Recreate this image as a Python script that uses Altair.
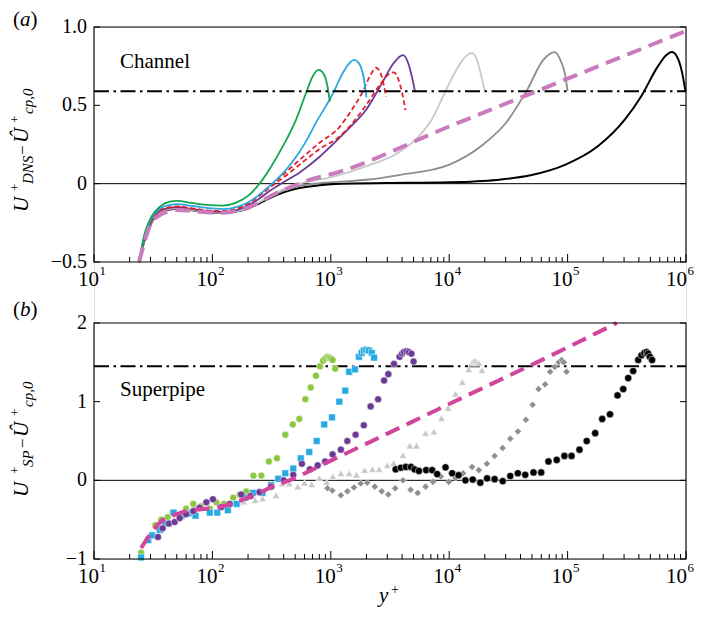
import altair as alt
import pandas as pd

# ---------------- data: panel (a) channel ----------------
a_green_x = [24, 26.8, 30.6, 36, 43.6, 51, 64, 89, 122, 159, 205, 250, 313, 392, 508, 617, 701, 788, 880, 938, 982]
a_green_y = [-0.5, -0.317, -0.21, -0.147, -0.115, -0.11, -0.121, -0.136, -0.14, -0.121, -0.072, 0.0, 0.108, 0.236, 0.407, 0.577, 0.683, 0.726, 0.694, 0.62, 0.523]

a_blue_x = [24, 26.8, 30.6, 36, 43.6, 51, 64, 89, 122, 159, 205, 250, 320, 420, 542, 650, 750, 900, 1050, 1260, 1430, 1575, 1700, 1790, 1900, 2000]
a_blue_y = [-0.5, -0.33, -0.22, -0.16, -0.135, -0.13, -0.14, -0.155, -0.162, -0.15, -0.115, -0.07, 0.0, 0.09, 0.2, 0.3, 0.39, 0.49, 0.58, 0.705, 0.768, 0.79, 0.775, 0.747, 0.673, 0.551]

a_red1_x = [24, 26.8, 30.6, 36, 43.6, 51, 64, 89, 122, 159, 205, 250, 300, 400, 542, 800, 1180, 1500, 1840, 2150, 2410, 2650, 2800, 2930]
a_red1_y = [-0.5, -0.34, -0.23, -0.17, -0.15, -0.145, -0.155, -0.17, -0.175, -0.16, -0.12, -0.07, -0.02, 0.06, 0.15, 0.26, 0.36, 0.47, 0.58, 0.69, 0.74, 0.7, 0.63, 0.555]

a_red2_x = [24, 26.8, 30.6, 36, 43.6, 51, 64, 89, 122, 159, 205, 250, 300, 400, 542, 800, 1180, 1500, 1980, 2650, 3100, 3400, 3700, 4000, 4270]
a_red2_y = [-0.5, -0.345, -0.235, -0.172, -0.152, -0.147, -0.157, -0.172, -0.177, -0.163, -0.125, -0.078, -0.03, 0.04, 0.12, 0.22, 0.3, 0.38, 0.5, 0.64, 0.7, 0.71, 0.67, 0.58, 0.47]

a_purple_x = [24, 26.8, 30.6, 36, 43.6, 51, 64, 89, 122, 159, 205, 250, 300, 400, 542, 800, 1035, 1500, 1980, 2700, 3400, 4070, 4500, 4850, 5140]
a_purple_y = [-0.5, -0.35, -0.24, -0.175, -0.155, -0.15, -0.16, -0.175, -0.18, -0.17, -0.135, -0.095, -0.05, 0.01, 0.07, 0.17, 0.25, 0.37, 0.47, 0.64, 0.77, 0.82, 0.77, 0.68, 0.59]

a_lgray_x = [24, 26.8, 30.6, 36, 43.6, 51, 64, 89, 122, 159, 205, 250, 300, 400, 542, 1000, 1980, 3770, 5500, 7130, 9300, 11000, 13000, 15500, 17000, 18500, 20000]
a_lgray_y = [-0.5, -0.355, -0.245, -0.18, -0.16, -0.155, -0.165, -0.18, -0.184, -0.176, -0.15, -0.115, -0.08, -0.035, 0.0, 0.04, 0.11, 0.2, 0.3, 0.41, 0.59, 0.7, 0.79, 0.835, 0.8, 0.7, 0.59]

a_gray_x = [24, 26.8, 30.6, 36, 43.6, 51, 64, 89, 122, 159, 205, 250, 300, 400, 542, 800, 1200, 2000, 3770, 9930, 19000, 30300, 45600, 62300, 77600, 88000, 95000, 100000]
a_gray_y = [-0.5, -0.36, -0.25, -0.183, -0.163, -0.158, -0.167, -0.181, -0.185, -0.177, -0.153, -0.12, -0.088, -0.045, -0.015, 0.003, 0.013, 0.025, 0.055, 0.12, 0.245, 0.39, 0.6, 0.79, 0.84, 0.78, 0.7, 0.59]

a_black_x = [24, 26.8, 30.6, 36, 43.6, 51, 64, 89, 122, 159, 205, 250, 300, 400, 542, 800, 1200, 3000, 10000, 25000, 49700, 95000, 181000, 305000, 420000, 580000, 680000, 760000, 840000, 920000, 990000]
a_black_y = [-0.5, -0.36, -0.25, -0.185, -0.165, -0.16, -0.168, -0.182, -0.186, -0.178, -0.155, -0.125, -0.095, -0.055, -0.028, -0.01, 0.0, 0.004, 0.009, 0.024, 0.055, 0.12, 0.24, 0.41, 0.56, 0.75, 0.82, 0.84, 0.81, 0.72, 0.59]

a_pink_x = [24, 27, 30, 36, 43.6, 51, 64, 89, 122, 159, 205, 250, 300, 400, 542, 700, 1000, 10000, 100000, 1000000]
a_pink_y = [-0.5, -0.36, -0.26, -0.2, -0.175, -0.168, -0.172, -0.183, -0.186, -0.175, -0.15, -0.12, -0.085, -0.04, 0.0, 0.03, 0.06, 0.365, 0.67, 0.975]

a_ref = [0.59]

# ---------------- data: panel (b) superpipe ----------------
b_green_x = [25, 33, 37, 42, 46, 52, 60, 69, 80, 95, 108, 125, 150, 170, 193, 222, 259, 300, 351, 413, 477, 542, 610, 677, 749, 810, 860, 900, 940, 970, 1000, 1035, 1090]
b_green_y = [-0.92, -0.57, -0.50, -0.47, -0.41, -0.45, -0.36, -0.30, -0.33, -0.36, -0.28, -0.30, -0.22, -0.18, -0.14, 0.06, 0.06, 0.24, 0.28, 0.58, 0.71, 0.78, 1.03, 1.18, 1.33, 1.45, 1.52, 1.55, 1.57, 1.56, 1.55, 1.53, 1.42]

b_blue_x = [25, 28.7, 31, 36, 40, 47, 55, 63, 72, 95, 110, 135, 160, 190, 220, 265, 313, 360, 413, 482, 558, 658, 760, 880, 1023, 1180, 1325, 1430, 1600, 1730, 1820, 1900, 2000, 2100, 2220, 2320]
b_blue_y = [-0.98, -0.76, -0.70, -0.63, -0.55, -0.41, -0.45, -0.42, -0.45, -0.41, -0.41, -0.38, -0.30, -0.22, -0.16, -0.16, -0.06, 0.02, 0.09, 0.15, 0.28, 0.36, 0.50, 0.71, 0.80, 1.00, 1.14, 1.38, 1.41, 1.57, 1.62, 1.65, 1.66, 1.65, 1.62, 1.56]

b_purple_x = [34.7, 38, 43, 48, 53, 60, 69, 78, 89, 101, 119, 140, 175, 210, 250, 313, 400, 482, 570, 666, 775, 895, 1035, 1216, 1380, 1620, 1900, 2170, 2510, 2820, 3060, 3420, 3810, 4000, 4140, 4350, 4560, 4800, 5000]
b_purple_y = [-0.72, -0.61, -0.55, -0.53, -0.48, -0.43, -0.39, -0.35, -0.28, -0.24, -0.34, -0.30, -0.18, -0.20, -0.15, -0.08, 0.0, 0.07, 0.21, 0.14, 0.19, 0.24, 0.33, 0.39, 0.50, 0.58, 0.70, 0.94, 1.03, 1.27, 1.35, 1.48, 1.57, 1.61, 1.63, 1.64, 1.63, 1.61, 1.51]

b_lgray_x = [130, 149, 166, 184, 230, 265, 308, 345, 390, 446, 525, 600, 690, 800, 925, 1040, 1216, 1430, 1650, 1930, 2250, 2560, 3000, 3400, 4070, 4650, 5300, 6320, 7430, 8600, 9780, 11300, 12900, 14600, 15500, 16000, 16600, 17200, 17800, 18900]
b_lgray_y = [-0.29, -0.23, -0.29, -0.27, -0.25, -0.23, -0.08, -0.19, -0.04, -0.04, -0.08, -0.03, -0.05, 0.03, -0.02, 0.05, 0.09, 0.09, 0.07, 0.13, 0.14, 0.14, 0.19, 0.22, 0.32, 0.44, 0.44, 0.60, 0.62, 0.79, 0.92, 1.10, 1.25, 1.41, 1.49, 1.51, 1.52, 1.50, 1.49, 1.40]

b_gray_x = [938, 1030, 1216, 1380, 1570, 1790, 2030, 2350, 2690, 3060, 3500, 4070, 4720, 5420, 6320, 7300, 8500, 9930, 11300, 13100, 15600, 17800, 20800, 24200, 28300, 32800, 38000, 44400, 50600, 56800, 64600, 71200, 78000, 84000, 89200, 93000, 98000]
b_gray_y = [-0.10, -0.13, -0.19, -0.14, -0.09, -0.04, -0.03, -0.08, -0.14, -0.18, -0.10, 0.0, -0.12, -0.16, -0.08, -0.02, 0.05, -0.02, 0.03, 0.09, 0.17, 0.13, 0.21, 0.31, 0.41, 0.53, 0.62, 0.77, 0.96, 1.16, 1.22, 1.38, 1.44, 1.50, 1.53, 1.50, 1.38]

b_black_x = [3530, 3900, 4300, 4750, 5100, 5550, 6390, 7180, 7910, 9310, 10600, 12000, 13700, 15800, 18300, 20900, 24200, 28300, 32800, 38000, 43900, 51500, 59800, 68900, 80900, 94000, 108000, 126000, 145000, 171000, 196000, 228000, 264000, 295000, 325000, 358000, 395000, 421000, 445000, 465000, 479000, 495000, 517000]
b_black_y = [0.14, 0.16, 0.17, 0.17, 0.14, 0.12, 0.13, 0.13, 0.08, 0.165, 0.09, 0.065, 0.0, 0.01, -0.03, 0.025, 0.015, -0.01, 0.055, 0.09, 0.07, 0.10, 0.10, 0.24, 0.26, 0.31, 0.31, 0.39, 0.50, 0.60, 0.78, 0.84, 1.08, 1.16, 1.30, 1.39, 1.53, 1.59, 1.62, 1.63, 1.61, 1.57, 1.53]

b_pink_x = [25, 30, 37, 50, 64, 90, 122, 170, 234, 300, 446, 1000, 10000, 100000, 260000]
b_pink_y = [-0.86, -0.68, -0.52, -0.43, -0.38, -0.36, -0.33, -0.26, -0.18, -0.1, 0.0, 0.25, 0.97, 1.69, 2.0]

b_ref = [1.45]

# ---------------- ticks and tick labels ----------------
x_major = [10, 100, 1000, 10000, 100000, 1000000]
x_exp = ["1", "2", "3", "4", "5", "6"]
x_minor = [m * 10 ** k for k in range(1, 6) for m in range(2, 10)]
ya_ticks = [-0.5, 0, 0.5, 1.0]
ya_labels = ["\u22120.5", "0", "0.5", "1.0"]
yb_ticks = [-1, 0, 1, 2]
yb_labels = ["\u22121", "0", "1", "2"]

FONT = "Liberation Serif, Tinos, 'Times New Roman', Times, 'DejaVu Serif', serif"

# layout (pixels, plot-area coordinates)
W = 592
A_TOP, A_BOT = 0, 235        # panel (a)
B_TOP, B_BOT = 296, 532      # panel (b)
H = B_BOT

xsc = alt.Scale(type="log", domain=[10, 1000000], nice=False)
X = alt.X("x:Q", scale=xsc, axis=None, title=None)
Ya = alt.Y("y:Q", scale=alt.Scale(domain=[-0.5, 1.0], range=[A_BOT, A_TOP], nice=False, zero=False),
           axis=None, title=None)
Yb = alt.Y("y:Q", scale=alt.Scale(domain=[-1, 2], range=[B_BOT, B_TOP], nice=False, zero=False),
           axis=None, title=None)

one = pd.DataFrame({"k": [0]})


def txt(s, x, y, size, italic=False, angle=0, align="left", font=FONT, opacity=1):
    kw = dict(text=s, font=font, fontSize=size, align=align,
              baseline="alphabetic", color="black", opacity=opacity)
    if italic:
        kw["fontStyle"] = "italic"
    if angle:
        kw["angle"] = angle
    return alt.Chart(one).mark_text(**kw).encode(x=alt.value(x), y=alt.value(y))


def line(xs, ys, Y, color, width=1.8, dash=None, interp="monotone"):
    df = pd.DataFrame({"x": xs, "y": ys})
    kw = dict(color=color, strokeWidth=width, interpolate=interp)
    if dash:
        kw["strokeDash"] = dash
    return alt.Chart(df).mark_line(**kw).encode(x=X, y=Y)


def pts(xs, ys, Y, color, shape, size):
    df = pd.DataFrame({"x": xs, "y": ys})
    return alt.Chart(df).mark_point(shape=shape, filled=True, size=size, fill=color,
                                    stroke="white", strokeWidth=0.5, opacity=1).encode(x=X, y=Y)


def xlabels(xs, exps, bot, shift):
    ldf = pd.DataFrame({"x": xs, "b": ["10"] * len(xs), "e": exps})
    lab10 = alt.Chart(ldf).mark_text(font=FONT, fontSize=21, align="right", dx=5 + shift,
                                      baseline="alphabetic", color="black").encode(
        x=X, y=alt.value(bot + 23.5), text="b:N")
    labe = alt.Chart(ldf).mark_text(font=FONT, fontSize=13, align="left", dx=5.5 + shift,
                                     baseline="alphabetic", color="black").encode(
        x=X, y=alt.value(bot + 13), text="e:N")
    return [lab10, labe]


def panel_frame(Y, top, bot, yticks, ylabels, ref):
    zero = alt.Chart(pd.DataFrame({"y": [0]})).mark_rule(color="black", strokeWidth=1).encode(
        y=Y, x=alt.value(0), x2=alt.value(W))
    dashdot = alt.Chart(pd.DataFrame({"y": ref})).mark_rule(
        color="black", strokeWidth=1.8, strokeDash=[15, 4.5, 2.5, 4.5]).encode(
        y=Y, x=alt.value(0), x2=alt.value(W))
    box = alt.Chart(one).mark_rect(fillOpacity=0, stroke="black", strokeWidth=1.1).encode(
        x=alt.value(0), x2=alt.value(W), y=alt.value(top), y2=alt.value(bot))
    xmin = alt.Chart(pd.DataFrame({"x": x_minor})).mark_rule(color="black", strokeWidth=1).encode(
        x=X, y=alt.value(bot), y2=alt.value(bot - 5))
    xmaj = alt.Chart(pd.DataFrame({"x": x_major})).mark_rule(color="black", strokeWidth=1).encode(
        x=X, y=alt.value(bot), y2=alt.value(bot - 8))
    ydf = pd.DataFrame({"y": yticks, "t": ylabels})
    ytl = alt.Chart(ydf).mark_rule(color="black", strokeWidth=1).encode(
        y=Y, x=alt.value(0), x2=alt.value(6))
    ytr = alt.Chart(ydf).mark_rule(color="black", strokeWidth=1).encode(
        y=Y, x=alt.value(W - 6), x2=alt.value(W))
    ylab = alt.Chart(ydf).mark_text(font=FONT, fontSize=20, align="right", baseline="middle",
                                    dx=-7, color="black").encode(
        y=Y, x=alt.value(0), text="t:N")
    labs = xlabels(x_major[:-1], x_exp[:-1], bot, 0) + xlabels(x_major[-1:], x_exp[-1:], bot, -4)
    return [zero, xmin, xmaj, ytl, ytr, ylab] + labs, dashdot, box


fa, dda, boxa = panel_frame(Ya, A_TOP, A_BOT, ya_ticks, ya_labels, a_ref)
fb, ddb, boxb = panel_frame(Yb, B_TOP, B_BOT, yb_ticks, yb_labels, b_ref)

layers = fa + [
    line(a_black_x, a_black_y, Ya, "#000000", 2.0),
    line(a_gray_x, a_gray_y, Ya, "#8d8d8d", 1.8),
    line(a_lgray_x, a_lgray_y, Ya, "#c9c9c9", 1.8),
    line(a_purple_x, a_purple_y, Ya, "#6b3a96", 1.8),
    line(a_red2_x, a_red2_y, Ya, "#e3202a", 1.8, [5, 3]),
    line(a_red1_x, a_red1_y, Ya, "#e3202a", 1.8, [5, 3]),
    line(a_blue_x, a_blue_y, Ya, "#2aa9e0", 1.8),
    line(a_green_x, a_green_y, Ya, "#13a651", 1.8),
    dda,
    line(a_pink_x, a_pink_y, Ya, "#c97bbd", 4.0, [15, 8]),
    boxa,
] + fb + [
    ddb,
    pts(b_lgray_x, b_lgray_y, Yb, "#c8c8c8", "triangle-up", 55),
    pts(b_gray_x, b_gray_y, Yb, "#8f8f8f", "diamond", 50),
    pts(b_black_x, b_black_y, Yb, "#000000", "circle", 52),
    pts(b_green_x, b_green_y, Yb, "#8cc540", "circle", 48),
    pts(b_blue_x, b_blue_y, Yb, "#27aae1", "square", 46),
    pts(b_purple_x, b_purple_y, Yb, "#6b3a96", "circle", 50),
    line(b_pink_x, b_pink_y, Yb, "#d1469c", 4.0, [15, 8]),
    boxb,
    # annotations
    txt("Channel", 26, A_TOP + 41.3, 21),
    txt("Superpipe", 26, B_TOP + 73, 21),
    txt("(", -81, A_TOP - 1.5, 21),
    txt("a", -74, A_TOP - 1.5, 21, italic=True),
    txt(")", -63.5, A_TOP - 1.5, 21),
    txt("(", -81, B_TOP - 7, 21),
    txt("b", -74, B_TOP - 7, 21, italic=True),
    txt(")", -63.5, B_TOP - 7, 21),
    # y title (a): U+_DNS - Û+_cp,0
    txt("U", -66, A_TOP + 185, 21, italic=True, angle=270),
    txt("+", -75, A_TOP + 164, 13, angle=270),
    txt("DNS", -61, A_TOP + 157, 15, italic=True, angle=270),
    txt("\u2212", -66, A_TOP + 128, 17, angle=270),
    txt("\u00db", -66, A_TOP + 116, 21, italic=True, angle=270),
    txt("+", -75.5, A_TOP + 96, 13, angle=270),
    txt("cp,0", -61, A_TOP + 87, 15, italic=True, angle=270),
    # y title (b): U+_SP - Û+_cp,0
    txt("U", -66, B_TOP + 174, 21, italic=True, angle=270),
    txt("+", -75, B_TOP + 151, 13, angle=270),
    txt("SP", -61, B_TOP + 144, 15, italic=True, angle=270),
    txt("\u2212", -66, B_TOP + 125, 17, angle=270),
    txt("\u00db", -66, B_TOP + 114, 21, italic=True, angle=270),
    txt("+", -75.5, B_TOP + 93, 13, angle=270),
    txt("cp,0", -61, B_TOP + 84, 15, italic=True, angle=270),
    # x title y+
    txt("y", 285, B_BOT + 43, 21, italic=True),
    txt("+", 297, B_BOT + 35, 14),
    # invisible font warm-up
    txt("Aa", 300, 150, 10, font="Liberation Serif", opacity=0),
    txt("Aa", 300, 150, 10, font="serif", opacity=0),
]

chart = alt.layer(*layers).resolve_scale(y="independent").properties(
    width=W, height=H,
    autosize=alt.AutoSizeParams(type="none"),
    padding={"left": 86, "top": 19, "right": 8, "bottom": 48},
).configure_view(strokeWidth=0).configure(font=FONT)

chart.save("out.html", embed_options={"renderer": "svg", "actions": False})
